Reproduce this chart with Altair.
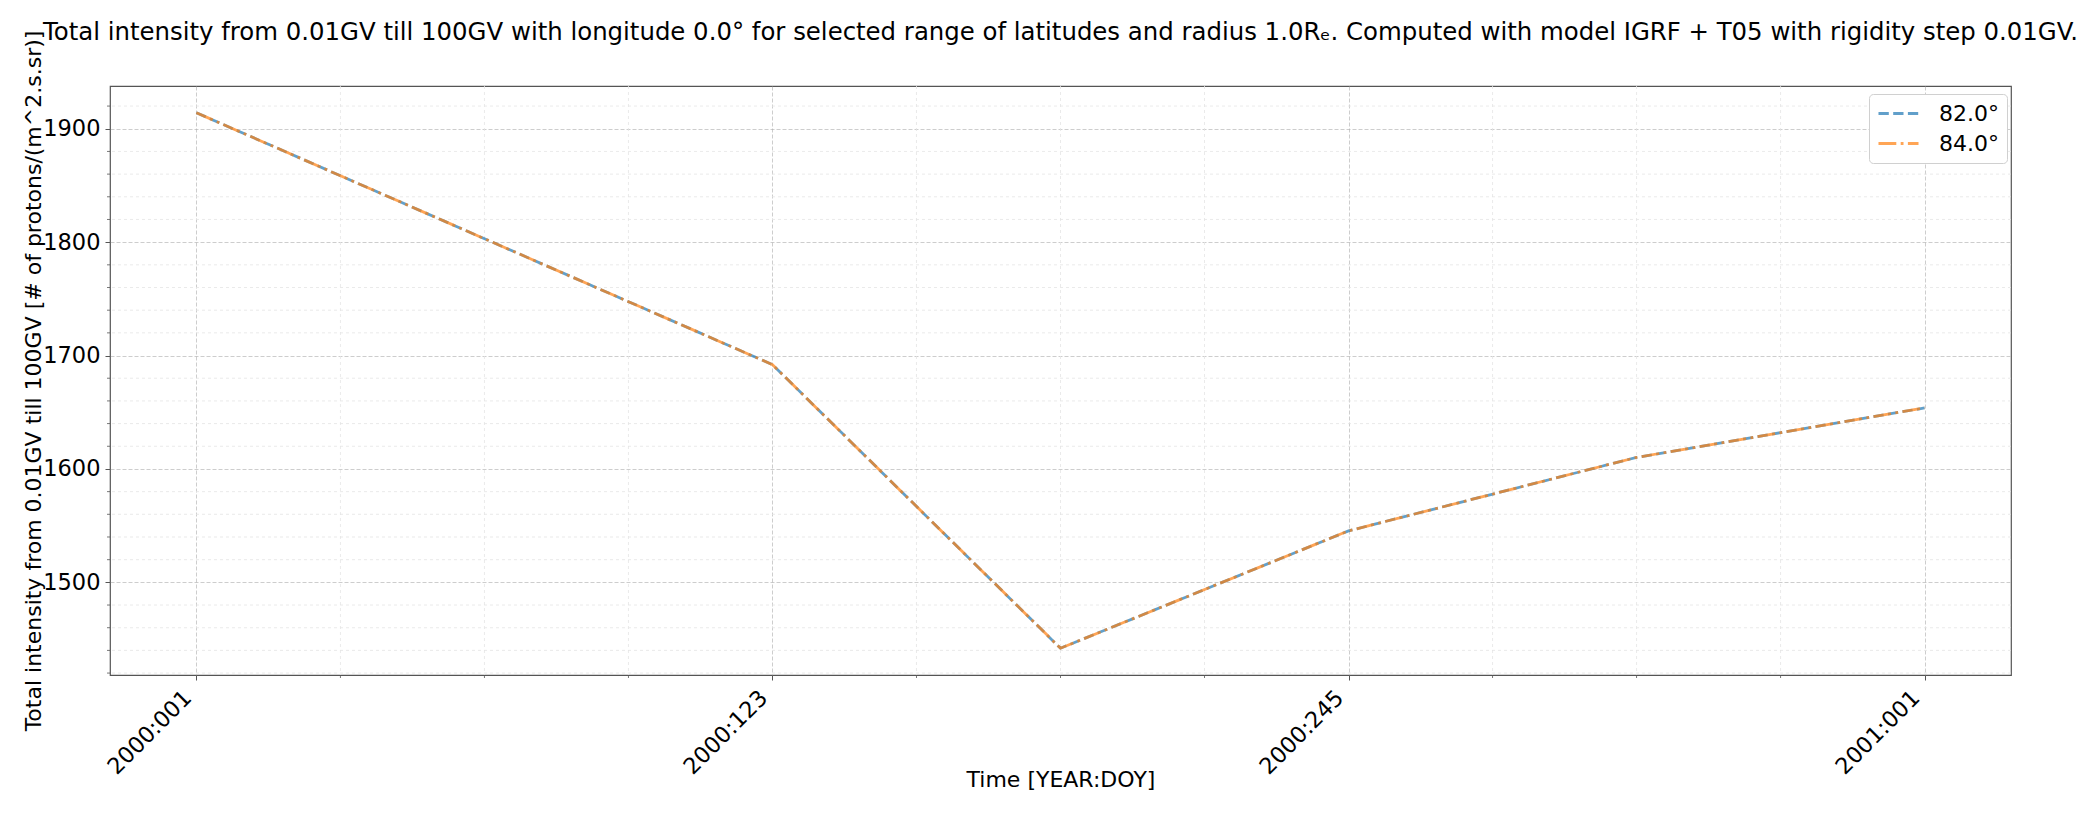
import altair as alt
import pandas as pd

# ---- data ----
days = [1, 123, 184, 245, 306, 367]
intensity_82 = [1914.1, 1692.0, 1441.9, 1545.4, 1610.2, 1653.8]
intensity_84 = [1914.1, 1692.0, 1441.9, 1545.4, 1610.2, 1653.8]
series_names = ["82.0°", "84.0°"]
series_colors = ["#1f77b4", "#ff7f0e"]
series_dashes = [[10.3, 4.4], [17.8, 4.4, 2.8, 4.4]]

tick_days = [1, 123, 245, 367]
tick_labels = ["2000:001", "2000:123", "2000:245", "2001:001"]
minor_days = [31.5, 62, 92.5, 153.5, 184, 214.5, 275.5, 306, 336.5]
y_ticks = [1500, 1600, 1700, 1800, 1900]
y_minor = [1420, 1440, 1460, 1480, 1520, 1540, 1560, 1580, 1620, 1640, 1660,
           1680, 1720, 1740, 1760, 1780, 1820, 1840, 1860, 1880, 1920]

title_text = ("Total intensity from 0.01GV till 100GV with longitude 0.0° for selected "
              "range of latitudes and radius 1.0Rₑ. Computed with model IGRF + T05 "
              "with rigidity step 0.01GV.")
y_title = "Total intensity from 0.01GV till 100GV [# of protons/(m^2.s.sr)]"
x_title = "Time [YEAR:DOY]"

W, H = 1901, 589

rows = []
for name, vals in zip(series_names, [intensity_82, intensity_84]):
    for i, (d, v) in enumerate(zip(days, vals)):
        rows.append({"day": d, "value": v, "series": name, "order": i})
df = pd.DataFrame(rows)
df_xminor = pd.DataFrame({"day": minor_days})
df_yminor = pd.DataFrame({"value": y_minor})
df_title = pd.DataFrame({"t": [title_text]})

label_expr = ""
for d, lab in zip(tick_days, tick_labels):
    label_expr += f"datum.value == {d} ? '{lab}' : "
label_expr += "''"

xscale = alt.Scale(domain=[-17.3, 385.3], nice=False, zero=False)
yscale = alt.Scale(domain=[1418.3, 1937.7], nice=False, zero=False)

x_axis = alt.Axis(
    values=tick_days, labelExpr=label_expr, labelAngle=-45,
    labelAlign="right", labelBaseline="middle", labelFontSize=22.5,
    labelColor="black", labelPadding=14, labelOffset=-9,
    labelFlush=False, labelOverlap=False, labelBound=False,
    title=x_title, titleFontSize=22, titleFontWeight="normal",
    titleColor="black", titleY=104, titleBaseline="middle",
    grid=True, gridColor="#b0b0b0", gridDash=[4, 2], gridOpacity=0.8,
    gridWidth=0.8, tickSize=5, tickColor="#555555", domain=False)
y_axis = alt.Axis(
    values=y_ticks, labelFontSize=22.5, labelColor="black", labelPadding=5,
    labelBaseline="middle", format="d",
    title=y_title, titleFontSize=22, titleFontWeight="normal",
    titleColor="black", titleX=-77, titleY=H / 2, titleAngle=270,
    titleAlign="center", titleBaseline="middle",
    grid=True, gridColor="#b0b0b0", gridDash=[4, 2], gridOpacity=0.8,
    gridWidth=0.8, tickSize=5, tickColor="#555555", domain=False)

minor_grid_x = alt.Chart(df_xminor).mark_rule(
    color="#e4e4e4", strokeDash=[3, 3], strokeWidth=0.8
).encode(x=alt.X("day:Q", scale=xscale, axis=x_axis))

minor_grid_y = alt.Chart(df_yminor).mark_rule(
    color="#e4e4e4", strokeDash=[3, 3], strokeWidth=0.8
).encode(y=alt.Y("value:Q", scale=yscale, axis=y_axis))

minor_tick_x = alt.Chart(df_xminor).mark_rule(color="#555555", strokeWidth=0.8).encode(
    x=alt.X("day:Q", scale=xscale, axis=x_axis),
    y=alt.value(H), y2=alt.value(H + 3))

minor_tick_y = alt.Chart(df_yminor).mark_rule(color="#555555", strokeWidth=0.8).encode(
    y=alt.Y("value:Q", scale=yscale, axis=y_axis),
    x=alt.value(0), x2=alt.value(-3))

title_mark = alt.Chart(df_title).mark_text(
    fontSize=24.4, color="black", align="center", baseline="alphabetic", font="DejaVu Sans"
).encode(text="t:N", x=alt.value(W / 2), y=alt.value(-46))

legend_cfg = alt.Legend(
    title=None, orient="none", legendX=1759, legendY=8,
    fillColor="white", strokeColor="#d0d0d0", cornerRadius=4, padding=8,
    labelFontSize=22, labelColor="black", labelFont="DejaVu Sans",
    symbolType="M-1,0L3,0", symbolSize=400, symbolStrokeWidth=2.78,
    symbolOpacity=0.7, symbolFillColor="transparent", labelOffset=39, rowPadding=7,
)

lines = alt.Chart(df).mark_line(strokeWidth=2.78, opacity=0.7).encode(
    x=alt.X("day:Q", scale=xscale, axis=x_axis),
    y=alt.Y("value:Q", scale=yscale, axis=y_axis),
    color=alt.Color("series:N", scale=alt.Scale(domain=series_names, range=series_colors),
                    legend=legend_cfg),
    strokeDash=alt.StrokeDash("series:N", scale=alt.Scale(domain=series_names, range=series_dashes),
                              legend=legend_cfg),
    order="order:Q",
)

chart = alt.layer(
    minor_grid_x, minor_grid_y, minor_tick_x, minor_tick_y, lines, title_mark
).properties(
    width=W, height=H,
    autosize=alt.AutoSizeParams(type="none"),
    padding={"left": 110, "top": 86, "right": 89, "bottom": 142},
).configure(font="DejaVu Sans").configure_view(
    stroke="#555555", strokeWidth=1.2
)

chart.save("out.html", embed_options={"renderer": "svg", "actions": False})
